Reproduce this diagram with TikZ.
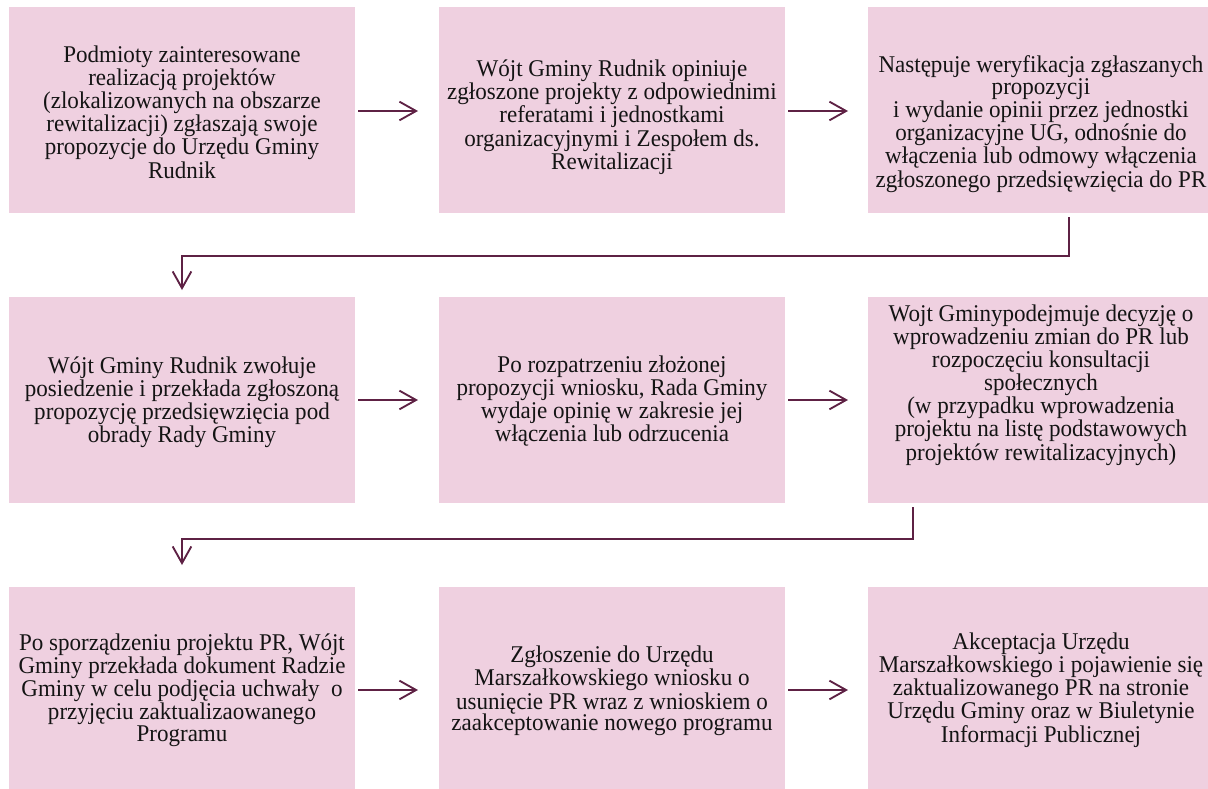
\documentclass[tikz,border=0pt]{standalone}
\usepackage{fontspec}
\setmainfont{Liberation Serif}[FakeStretch=0.96]
\usetikzlibrary{arrows.meta}
\definecolor{boxpink}{HTML}{EFD0E0}
\definecolor{linecol}{HTML}{5E2144}
\begin{document}
\begin{tikzpicture}[x=0.75pt,y=-0.75pt,
  pbox/.style={fill=boxpink,draw=none,minimum width=259.5pt,minimum height=154.5pt,inner sep=0pt,outer sep=0pt},
  ptext/.style={align=center,font=\fontsize{18}{16.3}\selectfont,inner sep=0pt,text=black!92},
  arr/.style={draw=linecol,line width=1.4pt,-{Straight Barb[length=12.5pt,width=14pt,line width=1.4pt]}}]
\useasboundingbox (0,0) rectangle (1208,789);
% boxes
\node[pbox] (b1) at (182,110) {};
\node[pbox] (b2) at (612,110) {};
\node[pbox,minimum width=255pt] (b3) at (1038,110) {};
\node[pbox] (b4) at (182,400) {};
\node[pbox] (b5) at (612,400) {};
\node[pbox,minimum width=255pt] (b6) at (1038,400) {};
\node[pbox,minimum height=151.5pt] (b7) at (182,688) {};
\node[pbox,minimum height=151.5pt] (b8) at (612,688) {};
\node[pbox,minimum width=255pt,minimum height=151.5pt] (b9) at (1038,688) {};
% texts
\node[ptext] (t1) at (182,112) {Podmioty zainteresowane\\realizacją projektów\\(zlokalizowanych na obszarze\\rewitalizacji) zgłaszają swoje\\propozycje do Urzędu Gminy\\Rudnik};
\node[ptext] (t2) at (612,117) {Wójt Gminy Rudnik opiniuje\\zgłoszone projekty z odpowiednimi\\referatami i jednostkami\\organizacyjnymi i Zespołem ds.\\Rewitalizacji};
\node[ptext] (t3) at (1041,124) {Następuje weryfikacja zgłaszanych\\propozycji\\i wydanie opinii przez jednostki\\organizacyjne UG, odnośnie do\\włączenia lub odmowy włączenia\\zgłoszonego przedsięwzięcia do PR};
\node[ptext] (t4) at (182,402) {Wójt Gminy Rudnik zwołuje\\posiedzenie i przekłada zgłoszoną\\propozycję przedsięwzięcia pod\\obrady Rady Gminy};
\node[ptext] (t5) at (612,401) {Po rozpatrzeniu złożonej\\propozycji wniosku, Rada Gminy\\wydaje opinię w zakresie jej\\włączenia lub odrzucenia};
\node[ptext] (t6) at (1041,385) {Wojt Gminypodejmuje decyzję o\\wprowadzeniu zmian do PR lub\\rozpoczęciu konsultacji\\społecznych\\(w przypadku wprowadzenia\\projektu na listę podstawowych\\projektów rewitalizacyjnych)};
\node[ptext] (t7) at (182,690) {Po sporządzeniu projektu PR, Wójt\\Gminy przekłada dokument Radzie\\Gminy w celu podjęcia uchwały~ o\\przyjęciu zaktualizaowanego\\Programu};
\node[ptext] (t8) at (612,691) {Zgłoszenie do Urzędu\\Marszałkowskiego wniosku o\\usunięcie PR wraz z wnioskiem o\\zaakceptowanie nowego programu};
\node[ptext] (t9) at (1041,690) {Akceptacja Urzędu\\Marszałkowskiego i pojawienie się\\zaktualizowanego PR na stronie\\Urzędu Gminy oraz w Biuletynie\\Informacji Publicznej};
% connectors
\draw[arr] ([shift={(3,1)}]b1.east) -- ([shift={(-21,1)}]b2.west);
\draw[arr] ([shift={(3,1)}]b2.east) -- ([shift={(-20,1)}]b3.west);
\draw[arr] ([shift={(201,4)}]b3.south west) |- ([shift={(0,-41)}]b4.north) -- ([shift={(0,-7)}]b4.north);
\draw[arr] ([shift={(3,0)}]b4.east) -- ([shift={(-21,0)}]b5.west);
\draw[arr] ([shift={(3,0)}]b5.east) -- ([shift={(-20,0)}]b6.west);
\draw[arr] ([shift={(45,4)}]b6.south west) |- ([shift={(0,-48)}]b7.north) -- ([shift={(0,-22)}]b7.north);
\draw[arr] ([shift={(3,2)}]b7.east) -- ([shift={(-21,2)}]b8.west);
\draw[arr] ([shift={(3,2)}]b8.east) -- ([shift={(-20,2)}]b9.west);
\end{tikzpicture}
\end{document}
